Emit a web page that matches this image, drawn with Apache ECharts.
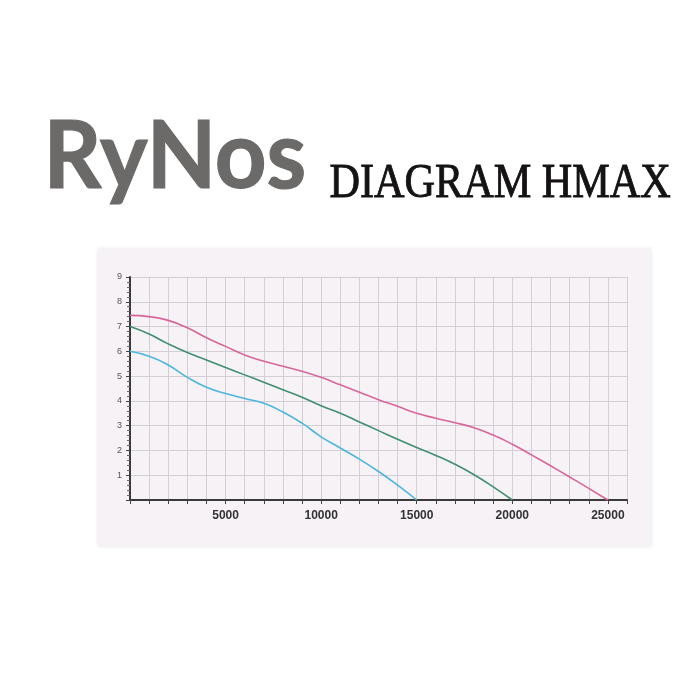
<!DOCTYPE html>
<html>
<head>
<meta charset="utf-8">
<script src="https://cdn.jsdelivr.net/npm/echarts@6/dist/echarts.min.js"></script>
<style>
html,body{margin:0;padding:0;background:#ffffff;}
#chart{width:700px;height:700px;}
</style>
</head>
<body>
<div id="chart"></div>
<script>
// Flow (L/h) sample points, shared by all curves
const flowPoints = [0,1000,2000,3000,4000,5000,6000,7000,8000,9000,10000,11000,12000,13000,14000,15000,16000,17000,18000,19000,20000,21000,22000,23000,24000,25000];
// Head (m) values per pump model
const pump25000 = [7.45,7.4,7.25,6.95,6.55,6.2,5.85,5.6,5.4,5.2,4.95,4.65,4.35,4.05,3.78,3.5,3.3,3.12,2.92,2.62,2.25,1.82,1.38,0.93,0.47,0];
const pump20000 = [7.0,6.7,6.3,5.95,5.65,5.35,5.05,4.75,4.45,4.15,3.8,3.5,3.15,2.8,2.45,2.12,1.8,1.44,1.02,0.53,0];
const pump15000 = [6.0,5.8,5.45,4.95,4.55,4.3,4.1,3.9,3.55,3.1,2.55,2.1,1.65,1.15,0.6,0];
// Axis labels
const xTickLabels = [5000,10000,15000,20000,25000];
const yTickLabels = [1,2,3,4,5,6,7,8,9];
const titleBrand = 'RyNos';
const titleText = 'DIAGRAM HMAX';

function pairs(vals){ return vals.map((v,i)=>[flowPoints[i], v]); }

const chart = echarts.init(document.getElementById('chart'), null, {renderer:'canvas'});
const option = {
  backgroundColor:'#ffffff',
  animation:false,
  graphic:[
    {type:'rect', z:-10, shape:{x:98,y:249,width:553,height:297}, style:{fill:'#f6f2f6', shadowBlur:4, shadowColor:'rgba(0,0,0,0.12)'}},
    {type:'text', left:43, top:110, scaleX:0.96, style:{text:titleBrand, font:'bold 94px Lato', fill:'#6c6a68', stroke:'#6c6a68', lineWidth:1.2, lineJoin:'round'}},
    {type:'text', left:329, top:160, scaleX:0.88, style:{text:titleText, font:'48px "Liberation Serif"', fill:'#151212', stroke:'#151212', lineWidth:0.9}}
  ],
  grid:{left:130, top:277, right:73, bottom:200, containLabel:false},
  xAxis:{
    type:'value', min:0, max:26000, interval:1000,
    axisLine:{show:true, onZero:false, lineStyle:{color:'#3a3a3a', width:2}},
    axisTick:{show:true, length:4, lineStyle:{color:'#444', width:1}},
    axisLabel:{
      margin:10, fontSize:12, fontWeight:'bold', color:'#333', fontFamily:'Liberation Sans',
      formatter:v => xTickLabels.indexOf(v) >= 0 ? String(v) : ''
    },
    splitLine:{show:true, lineStyle:{color:'#d2ced6', width:1}}
  },
  yAxis:{
    type:'value', min:0, max:9, interval:1,
    axisLine:{show:true, lineStyle:{color:'#3a3a3a', width:2}},
    axisTick:{show:true, length:4, lineStyle:{color:'#444'}},
    minorTick:{show:true, splitNumber:5, length:3, lineStyle:{color:'#666'}},
    axisLabel:{
      margin:8, fontSize:9, color:'#555', fontFamily:'Liberation Sans',
      formatter:v => yTickLabels.indexOf(v) >= 0 ? String(v) : ''
    },
    splitLine:{show:true, lineStyle:{color:'#d2ced6', width:1}}
  },
  series:[
    {type:'line', name:'25000', data:pairs(pump25000), smooth:true, showSymbol:false, lineStyle:{color:'#d8669a', width:1.6}},
    {type:'line', name:'20000', data:pairs(pump20000), smooth:true, showSymbol:false, lineStyle:{color:'#3f8f70', width:1.6}},
    {type:'line', name:'15000', data:pairs(pump15000), smooth:true, showSymbol:false, lineStyle:{color:'#4db6dd', width:1.6}}
  ]
};
chart.setOption(option);
</script>
</body>
</html>
